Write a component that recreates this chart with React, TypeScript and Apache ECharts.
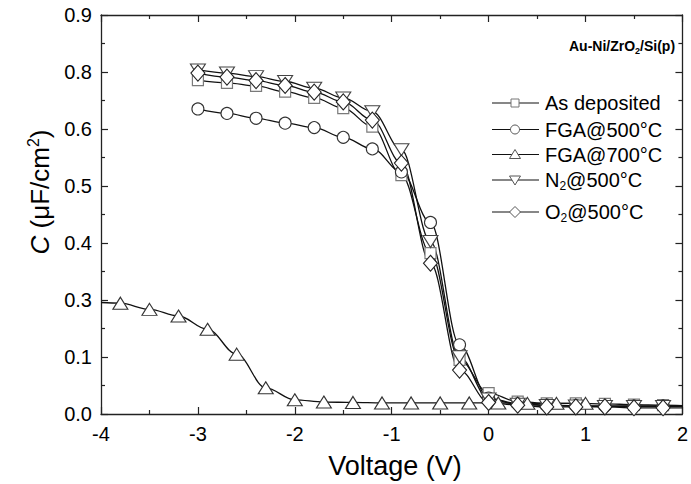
import React, { useEffect, useRef } from "react";
import * as echarts from "echarts";

// ---- data (C in the units of the drawn y scale, V in volts) ----
const xMain = [-3.0, -2.7, -2.4, -2.1, -1.8, -1.5, -1.2, -0.9, -0.6, -0.3, 0.0, 0.3, 0.6, 0.9, 1.2, 1.5, 1.8, 2.0];
const asDeposited = [0.753, 0.747, 0.740, 0.727, 0.713, 0.690, 0.648, 0.539, 0.363, 0.122, 0.047, 0.028, 0.024, 0.024, 0.023, 0.021, 0.020, 0.019];
const fga500 = [0.688, 0.678, 0.667, 0.656, 0.646, 0.624, 0.598, 0.546, 0.432, 0.156, 0.036, 0.023, 0.020, 0.019, 0.018, 0.018, 0.018, 0.018];
const n2500 = [0.776, 0.769, 0.761, 0.750, 0.735, 0.713, 0.682, 0.596, 0.389, 0.129, 0.034, 0.022, 0.019, 0.018, 0.017, 0.017, 0.017, 0.017];
const o2500 = [0.769, 0.760, 0.752, 0.741, 0.726, 0.704, 0.663, 0.566, 0.340, 0.099, 0.026, 0.020, 0.016, 0.016, 0.016, 0.014, 0.014, 0.014];
const mainUnmarked = [17];

const x700 = [-4.0, -3.8, -3.5, -3.2, -2.9, -2.6, -2.3, -2.0, -1.7, -1.4, -1.1, -0.8, -0.5, -0.2, 0.1, 0.4, 0.7, 1.0];
const fga700 = [0.2515, 0.250, 0.236, 0.221, 0.191, 0.135, 0.059, 0.032, 0.027, 0.026, 0.025, 0.025, 0.025, 0.025, 0.025, 0.024, 0.024, 0.024];
const x700Unmarked = [0];

const yTickLabels = ["0.0", "0.1", "0.3", "0.4", "0.5", "0.6", "0.8", "0.9"];
const yMax = 0.9;
const xMin = -4;
const xMax = 2;

const seriesNames = ["As deposited", "FGA@500°C", "FGA@700°C", "N2@500°C", "O2@500°C"];

const FONT = "'Liberation Sans', Arial, Helvetica, sans-serif";

export default function App() {
  const ref = useRef<HTMLDivElement>(null);

  useEffect(() => {
    const chart = echarts.init(ref.current!, undefined, { renderer: "svg" });
    const yInterval = yMax / (yTickLabels.length - 1);

    const mk = (xs: number[], ys: number[], unmarked: number[]) =>
      xs.map((x, i) =>
        unmarked.includes(i) ? { value: [x, ys[i]], symbol: "none" } : { value: [x, ys[i]] }
      );

    const baseSeries = {
      type: "line",
      smooth: 0.35,
      smoothMonotone: "x",
      showAllSymbol: true,
      silent: true,
      lineStyle: { color: "#111", width: 1.3 },
      emphasis: { disabled: true },
    };

    const axisCommon = {
      axisLine: { show: true, onZero: false, lineStyle: { color: "#222", width: 1.3 } },
      axisTick: { show: true, inside: true, length: 7, lineStyle: { color: "#222", width: 1.2 } },
      minorTick: { show: true, splitNumber: 2, length: 4, lineStyle: { color: "#222", width: 1.2 } },
      splitLine: { show: false },
    };

    const legendY = [103, 129.5, 154.5, 180, 212];
    const sx = 515;
    const symStyle = (stroke: string) => ({ fill: "#fff", stroke, lineWidth: 1 });
    const legendSymbols: any[] = [
      { type: "rect", shape: { x: sx - 4, y: legendY[0] - 4, width: 8, height: 8 }, style: symStyle("#777") },
      { type: "circle", shape: { cx: sx, cy: legendY[1], r: 4.5 }, style: symStyle("#555") },
      { type: "polygon", shape: { points: [[sx, legendY[2] - 5], [sx + 5.5, legendY[2] + 4], [sx - 5.5, legendY[2] + 4]] }, style: symStyle("#555") },
      { type: "polygon", shape: { points: [[sx - 5.5, legendY[3] - 4], [sx + 5.5, legendY[3] - 4], [sx, legendY[3] + 5]] }, style: symStyle("#555") },
      { type: "polygon", shape: { points: [[sx, legendY[4] - 5.5], [sx + 5.5, legendY[4]], [sx, legendY[4] + 5.5], [sx - 5.5, legendY[4]]] }, style: symStyle("#555") },
    ];
    const legendTexts = [
      "{t|" + seriesNames[0] + "}",
      "{t|" + seriesNames[1] + "}",
      "{t|" + seriesNames[2] + "}",
      "{t|N}{sub|2}{t|@500°C}",
      "{t|O}{sub|2}{t|@500°C}",
    ];
    const richLegend = {
      t: { fontSize: 20, fontFamily: FONT, fill: "#000", lineHeight: 24, verticalAlign: "middle" },
      sub: { fontSize: 12, fontFamily: FONT, fill: "#000", verticalAlign: "bottom", lineHeight: 12 },
    };

    const graphic: any[] = [];
    legendY.forEach((cy, i) => {
      graphic.push({ type: "line", shape: { x1: 492, y1: cy, x2: 539, y2: cy }, style: { stroke: "#111", lineWidth: 1.2 }, silent: true });
      graphic.push({ ...legendSymbols[i], silent: true });
      graphic.push({
        type: "text",
        x: 545,
        y: cy,
        silent: true,
        style: {
          text: legendTexts[i],
          fontSize: 20,
          fontFamily: FONT,
          fill: "#000",
          verticalAlign: "middle",
          lineHeight: 24,
          rich: richLegend,
        },
      });
    });

    // panel title
    graphic.push({
      type: "text",
      x: 569,
      y: 46,
      silent: true,
      style: {
        text: "{b|Au-Ni/ZrO}{s|2}{b|/Si(p)}",
        fontSize: 14,
        fontWeight: "bold",
        fontFamily: FONT,
        fill: "#000",
        align: "left",
        verticalAlign: "middle",
        lineHeight: 18,
        rich: {
          b: { fontSize: 14, fontWeight: "bold", fontFamily: FONT, fill: "#000", lineHeight: 18, verticalAlign: "middle" },
          s: { fontSize: 9, fontWeight: "bold", fontFamily: FONT, fill: "#000", verticalAlign: "bottom", lineHeight: 9 },
        },
      },
    });

    // axis titles
    graphic.push({
      type: "text",
      x: 395,
      y: 466,
      silent: true,
      style: { text: "Voltage (V)", fontSize: 27, fontFamily: FONT, fill: "#000", align: "center", verticalAlign: "middle" },
    });
    graphic.push({
      type: "text",
      x: 40,
      y: 192,
      rotation: Math.PI / 2,
      silent: true,
      style: {
        text: "{it|C}{n| (μF/cm}{sup|2}{n|)}",
        fontSize: 26,
        fontFamily: FONT,
        fill: "#000",
        align: "center",
        verticalAlign: "middle",
        lineHeight: 30,
        rich: {
          it: { fontSize: 26, fontStyle: "italic", fontFamily: FONT, fill: "#000", lineHeight: 30, verticalAlign: "middle" },
          n: { fontSize: 26, fontFamily: FONT, fill: "#000", lineHeight: 30, verticalAlign: "middle" },
          sup: { fontSize: 16, fontFamily: FONT, fill: "#000", verticalAlign: "top", lineHeight: 14 },
        },
      },
    });

    chart.setOption({
      animation: false,
      backgroundColor: "#fff",
      grid: { left: 101, right: 3, top: 15, bottom: 70, containLabel: false },
      xAxis: [
        {
          type: "value",
          min: xMin,
          max: xMax,
          interval: 1,
          position: "bottom",
          ...axisCommon,
          axisLabel: { show: true, color: "#000", fontSize: 20, fontFamily: FONT, margin: 10, formatter: (v: number) => String(v) },
        },
        {
          type: "value",
          min: xMin,
          max: xMax,
          interval: 1,
          position: "top",
          ...axisCommon,
          axisLabel: { show: false },
        },
      ],
      yAxis: [
        {
          type: "value",
          min: 0,
          max: yMax,
          interval: yInterval,
          position: "left",
          ...axisCommon,
          axisLabel: {
            show: true,
            color: "#000",
            fontSize: 20,
            fontFamily: FONT,
            margin: 9,
            formatter: (v: number) => yTickLabels[Math.round(v / yInterval)] ?? "",
          },
        },
        {
          type: "value",
          min: 0,
          max: yMax,
          interval: yInterval,
          position: "right",
          ...axisCommon,
          axisLabel: { show: false },
        },
      ],
      series: [
        { ...baseSeries, name: seriesNames[0], data: mk(xMain, asDeposited, mainUnmarked), symbol: "rect", symbolSize: 11, itemStyle: { color: "#fff", borderColor: "#7a7a7a", borderWidth: 1.2 } },
        { ...baseSeries, name: seriesNames[1], data: mk(xMain, fga500, mainUnmarked), symbol: "circle", symbolSize: 12, itemStyle: { color: "#fff", borderColor: "#333", borderWidth: 1.1 } },
        { ...baseSeries, name: seriesNames[2], data: mk(x700, fga700, x700Unmarked), symbol: "triangle", symbolSize: [15, 12], itemStyle: { color: "#fff", borderColor: "#333", borderWidth: 1.1 } },
        { ...baseSeries, name: seriesNames[3], data: mk(xMain, n2500, mainUnmarked), symbol: "triangle", symbolRotate: 180, symbolSize: [15, 12], itemStyle: { color: "#fff", borderColor: "#444", borderWidth: 1.1 } },
        { ...baseSeries, name: seriesNames[4], data: mk(xMain, o2500, mainUnmarked), symbol: "diamond", symbolSize: [14, 16], itemStyle: { color: "#fff", borderColor: "#222", borderWidth: 1.1 } },
      ],
      graphic,
    });

    return () => chart.dispose();
  }, []);

  return (
    <div
      ref={ref}
      style={{ position: "fixed", left: 0, top: 0, width: 691, height: 484, background: "#fff" }}
    />
  );
}
